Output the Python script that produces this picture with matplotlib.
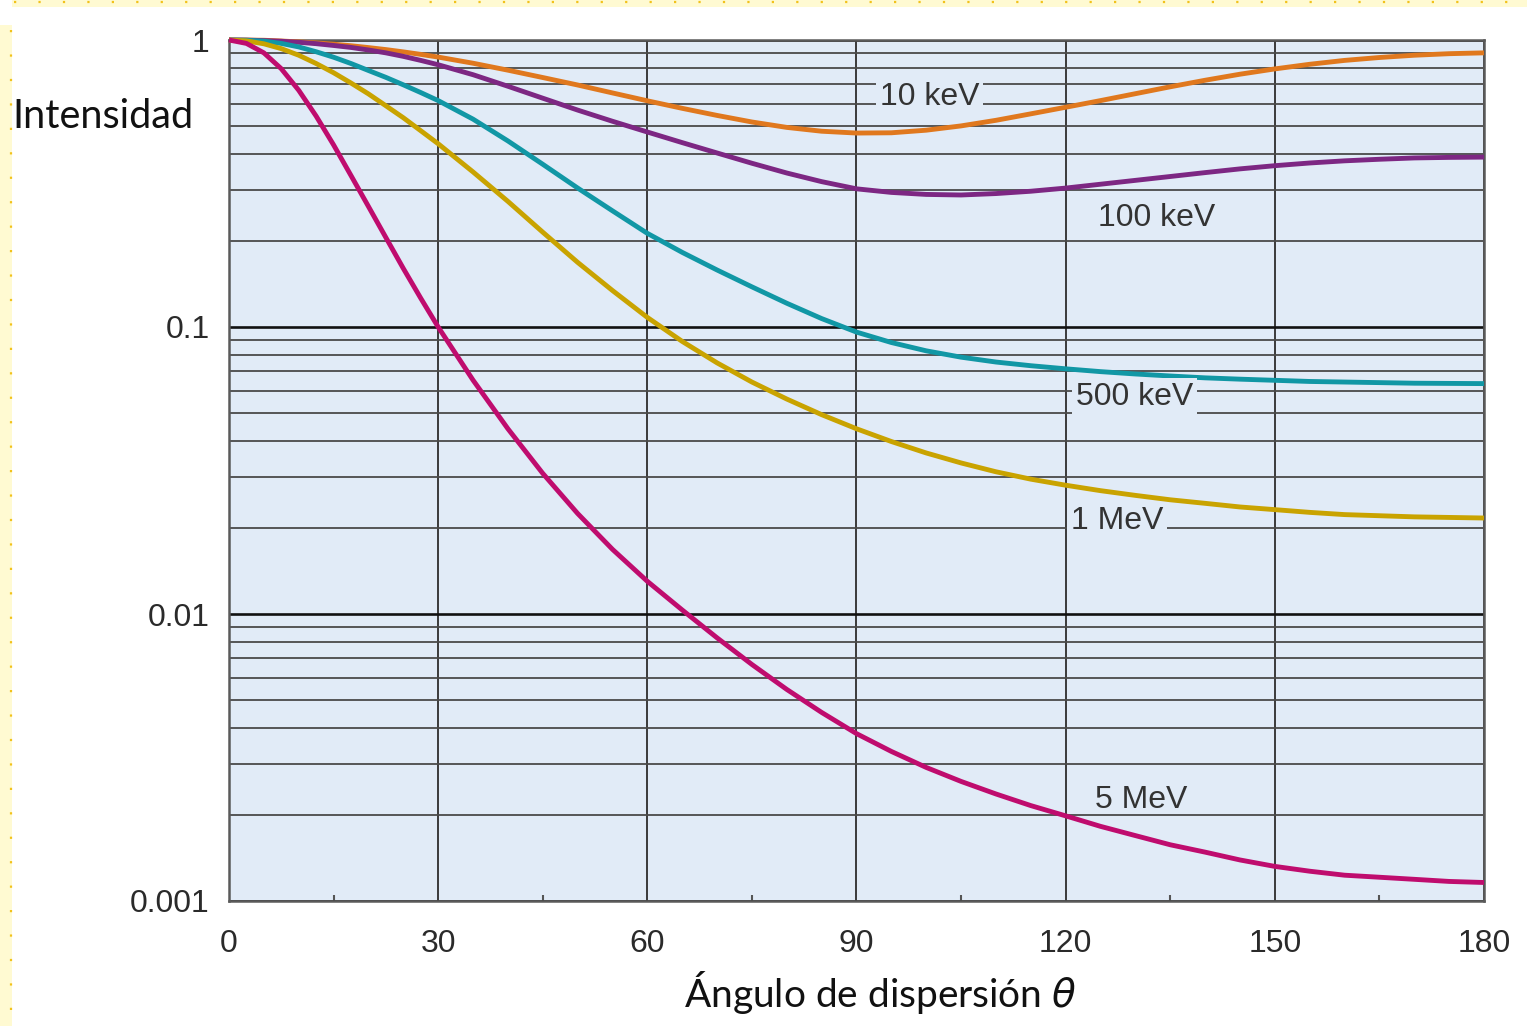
import numpy as np
import matplotlib
matplotlib.use("Agg")
import matplotlib.pyplot as plt
from matplotlib.ticker import LogLocator, NullFormatter
from matplotlib.lines import Line2D
from matplotlib.patches import Rectangle

plt.rcParams["font.family"] = ["Liberation Sans", "DejaVu Sans"]

# Scattering angle (degrees)
angles = [0, 2.5, 5, 7.5, 10, 12.5, 15, 17.5, 20, 22.5, 25, 27.5, 30,
          35, 40, 45, 50, 55, 60, 65, 70, 75, 80, 85, 90,
          95, 100, 105, 110, 115, 120, 125, 130, 135, 140, 145, 150,
          155, 160, 165, 170, 175, 180]

# Relative scattered intensity for each photon energy
i_10kev = [1.0, 0.9995, 0.998, 0.992, 0.985, 0.977, 0.967, 0.955, 0.941, 0.926, 0.909, 0.891, 0.872,
           0.830, 0.785, 0.740, 0.697, 0.654, 0.614, 0.578, 0.546, 0.518, 0.496, 0.481, 0.474,
           0.475, 0.485, 0.502, 0.525, 0.553, 0.583, 0.615, 0.650, 0.687, 0.724, 0.760, 0.793,
           0.823, 0.849, 0.869, 0.885, 0.896, 0.902]
i_100kev = [1.0, 0.999, 0.995, 0.990, 0.982, 0.971, 0.957, 0.942, 0.923, 0.902, 0.877, 0.849, 0.820,
            0.757, 0.690, 0.627, 0.570, 0.521, 0.478, 0.439, 0.404, 0.372, 0.344, 0.321, 0.303,
            0.2944, 0.2897, 0.2884, 0.2917, 0.2972, 0.3048, 0.3144, 0.3243, 0.3345, 0.3451, 0.3556, 0.3648,
            0.3728, 0.3793, 0.3841, 0.3882, 0.3899, 0.3908]
i_500kev = [1.0, 0.998, 0.991, 0.973, 0.946, 0.910, 0.871, 0.828, 0.783, 0.741, 0.698, 0.656, 0.615,
            0.530, 0.445, 0.369, 0.305, 0.254, 0.212, 0.182, 0.158, 0.138, 0.121, 0.107, 0.096,
            0.0883, 0.0826, 0.0785, 0.0755, 0.0733, 0.0715, 0.0699, 0.0686, 0.0675, 0.0665, 0.0658, 0.0652,
            0.0646, 0.0643, 0.0640, 0.0637, 0.0636, 0.0635]
i_1mev = [1.0, 0.993, 0.970, 0.933, 0.885, 0.828, 0.769, 0.708, 0.649, 0.590, 0.536, 0.483, 0.435,
          0.347, 0.274, 0.214, 0.168, 0.134, 0.108, 0.0891, 0.075, 0.0643, 0.0561, 0.0495, 0.0442,
          0.0399, 0.0364, 0.0336, 0.0313, 0.0295, 0.0281, 0.0269, 0.0259, 0.0250, 0.0243, 0.0236, 0.0231,
          0.0226, 0.0222, 0.0220, 0.0218, 0.0217, 0.0216]
i_5mev = [1.0, 0.973, 0.902, 0.794, 0.668, 0.543, 0.431, 0.337, 0.263, 0.205, 0.160, 0.126, 0.100,
          0.0653, 0.0442, 0.0309, 0.0224, 0.0168, 0.0130, 0.01033, 0.00826, 0.00667, 0.00546, 0.00454, 0.00383,
          0.00332, 0.00292, 0.00261, 0.00236, 0.00215, 0.00198, 0.00182, 0.00169, 0.00157, 0.00148, 0.00139, 0.00132,
          0.00127, 0.00123, 0.00121, 0.00119, 0.00117, 0.00116]

# name, values, colour, label position (angle, intensity), label masks grid lines
series = [
    ("10 keV", i_10kev, "#E0781E", 100.5, 0.633, True),
    ("100 keV", i_100kev, "#7D2783", 133.1, 0.240, False),
    ("500 keV", i_500kev, "#1197A5", 129.9, 0.057, True),
    ("1 MeV", i_1mev, "#C9A300", 127.4, 0.0211, True),
    ("5 MeV", i_5mev, "#BF0C6E", 130.8, 0.00225, False),
]

x_ticks = [0, 30, 60, 90, 120, 150, 180]
y_ticks = [0.001, 0.01, 0.1, 1]
y_ticklabels = ["0.001", "0.01", "0.1", "1"]

W, H = 1527, 1026
fig = plt.figure(figsize=(W / 100, H / 100), dpi=100)
fig.patch.set_facecolor("white")

# pale yellow dotted frame along top and left edges
fig.patches.append(Rectangle((12 / W, 1 - 7 / H), 1, 7 / H, transform=fig.transFigure,
                             facecolor="#FFFAD2", edgecolor="none", zorder=0))
fig.patches.append(Rectangle((0, 0), 12 / W, 1 - 25 / H, transform=fig.transFigure,
                             facecolor="#FFFAD2", edgecolor="none", zorder=0))
fig.lines.append(Line2D([14 / W, 1], [1 - 2 / H, 1 - 2 / H], transform=fig.transFigure,
                        color="#F2C21B", lw=1.6, dashes=(1, 10)))
fig.lines.append(Line2D([10.5 / W, 10.5 / W], [1 - 30 / H, 0], transform=fig.transFigure,
                        color="#F2C21B", lw=1.6, dashes=(1, 10)))

ax = fig.add_axes([229 / W, 1 - 901 / H, (1484 - 229) / W, (901 - 40) / H])
ax.set_facecolor("#E1EBF7")
ax.set_yscale("log")
ax.set_xlim(0, 180)
ax.set_ylim(0.001, 1)

ax.set_xticks(x_ticks)
ax.set_xticks(range(15, 180, 30), minor=True)
ax.set_yticks(y_ticks)
ax.set_yticklabels(y_ticklabels)
ax.yaxis.set_minor_locator(LogLocator(base=10, subs=np.arange(2, 10)))
ax.yaxis.set_minor_formatter(NullFormatter())

ax.tick_params(axis="both", which="major", length=0, labelsize=23, labelcolor="#2a2a2a")
ax.tick_params(axis="x", which="major", pad=20)
ax.tick_params(axis="y", which="major", pad=14)
ax.tick_params(axis="x", which="minor", direction="in", length=4.5, width=1.5, color="#555555")
ax.tick_params(axis="y", which="minor", length=0)

ax.set_axisbelow(True)
ax.xaxis.grid(True, which="major", color="#3a3a3a", lw=1.4)
ax.yaxis.grid(True, which="major", color="#111111", lw=1.9)
ax.yaxis.grid(True, which="minor", color="#4a4a4a", lw=1.3)

for sp in ax.spines.values():
    sp.set_color("#5a5a5a")
    sp.set_linewidth(1.8)

for name, vals, color, lx, ly, masked in series:
    ax.plot(angles, vals, color=color, lw=3.5, solid_capstyle="butt",
            solid_joinstyle="round", zorder=3, clip_on=False)
    box = dict(boxstyle="square,pad=0.12", facecolor="#E1EBF7", edgecolor="none") if masked else None
    ax.text(lx, ly, name, fontsize=23, color="#333333", ha="center", va="center",
            zorder=4, bbox=box)

ax.set_ylabel("Intensidad", rotation=0, ha="left", va="center",
              fontsize=28.5, family=["Lato", "DejaVu Sans"], color="#111111")
ax.yaxis.set_label_coords((12 - 229) / 1255, 1 - (117 - 40) / 861)
ax.set_xlabel("Ángulo de dispersión $\\theta$", fontsize=28,
              family=["Lato", "DejaVu Sans"], color="#111111")
ax.xaxis.set_label_coords((880 - 229) / 1255, -(993 - 901) / 861)
ax.xaxis.label.set_va("center")

fig.savefig("out.png", dpi=100)
